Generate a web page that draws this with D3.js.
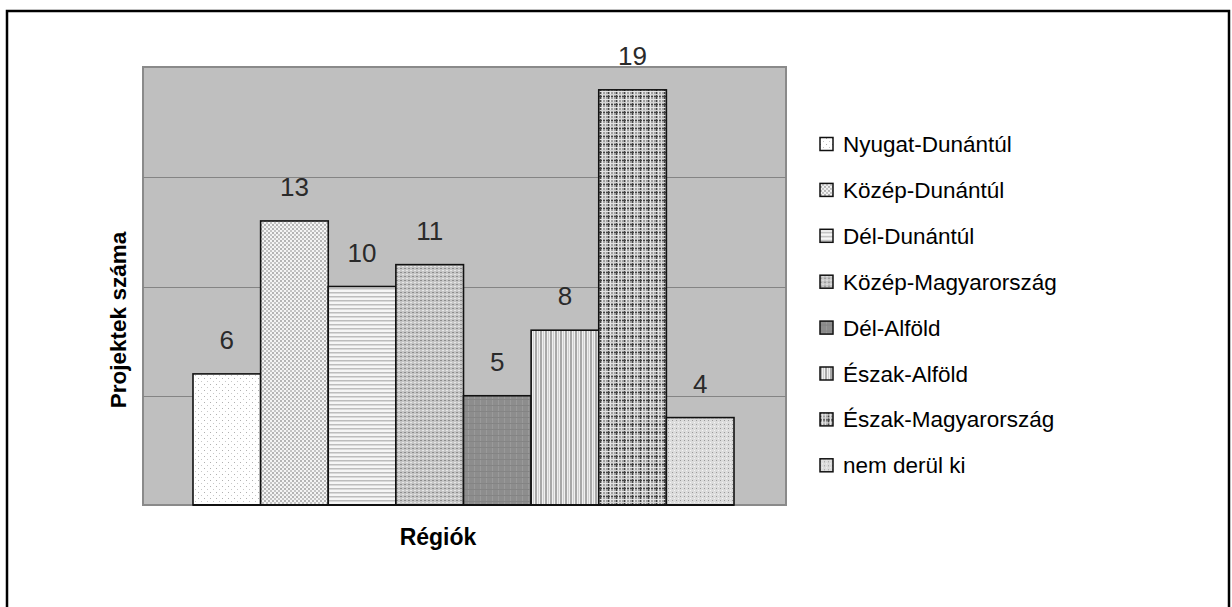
<!DOCTYPE html>
<html>
<head>
<meta charset="utf-8">
<script src="https://cdn.jsdelivr.net/npm/d3@7"></script>
<style>
  body { margin: 0; background: #fff; }
  svg { display: block; font-family: "Liberation Sans", Arial, sans-serif; }
</style>
</head>
<body>
<div id="chart"></div>
<script>
// data
const regions = ["Nyugat-Dunántúl", "Közép-Dunántúl", "Dél-Dunántúl", "Közép-Magyarország",
  "Dél-Alföld", "Észak-Alföld", "Észak-Magyarország", "nem derül ki"];
const projects = [6, 13, 10, 11, 5, 8, 19, 4];
const yTicks = [0, 5, 10, 15, 20];

const W = 1232, H = 607;
const plot = { left: 143, right: 786, top: 67, bottom: 505 };

const svg = d3.select("#chart").append("svg").attr("width", W).attr("height", H);
const defs = svg.append("defs");

// fill patterns, one per region
function makePattern(id, size, bg, draw) {
  const p = defs.append("pattern").attr("id", id).attr("patternUnits", "userSpaceOnUse")
    .attr("width", size[0]).attr("height", size[1]);
  p.append("rect").attr("width", size[0]).attr("height", size[1]).attr("fill", bg);
  draw(p);
}
makePattern("p0", [6, 6], "#ffffff", p => {
  p.append("rect").attr("x", 0).attr("y", 0).attr("width", 1).attr("height", 1).attr("fill", "#b0b0b0");
  p.append("rect").attr("x", 3).attr("y", 3).attr("width", 1).attr("height", 1).attr("fill", "#c8c8c8");
});
makePattern("p1", [4, 4], "#f4f4f4", p => {
  p.append("rect").attr("x", 0).attr("y", 0).attr("width", 2).attr("height", 2).attr("fill", "#b4b4b4");
  p.append("rect").attr("x", 2).attr("y", 2).attr("width", 2).attr("height", 2).attr("fill", "#c4c4c4");
});
makePattern("p2", [4, 4], "#f6f6f6", p => {
  p.append("rect").attr("x", 0).attr("y", 0).attr("width", 4).attr("height", 1.5).attr("fill", "#bdbdbd");
});
makePattern("p3", [4, 4], "#c6c6c6", p => {
  p.append("rect").attr("x", 0).attr("y", 0).attr("width", 2).attr("height", 1).attr("fill", "#8e8e8e");
  p.append("rect").attr("x", 2).attr("y", 2).attr("width", 2).attr("height", 1).attr("fill", "#e6e6e6");
});
makePattern("p4", [6, 6], "#8d8d8d", p => {
  p.append("rect").attr("x", 0).attr("y", 0).attr("width", 1).attr("height", 6).attr("fill", "#9a9a9a");
  p.append("rect").attr("x", 0).attr("y", 3).attr("width", 6).attr("height", 1).attr("fill", "#848484");
});
makePattern("p5", [5, 5], "#f0f0f0", p => {
  p.append("rect").attr("x", 0).attr("y", 0).attr("width", 2).attr("height", 5).attr("fill", "#a8a8a8");
  p.append("rect").attr("x", 3).attr("y", 0).attr("width", 1).attr("height", 5).attr("fill", "#cfcfcf");
});
makePattern("p6", [8, 8], "#a0a0a0", p => {
  p.append("rect").attr("x", 0).attr("y", 0).attr("width", 1).attr("height", 8).attr("fill", "#444");
  p.append("rect").attr("x", 0).attr("y", 0).attr("width", 8).attr("height", 1).attr("fill", "#444");
  p.append("rect").attr("x", 2).attr("y", 0).attr("width", 1).attr("height", 8).attr("fill", "#e8e8e8");
  p.append("rect").attr("x", 5).attr("y", 0).attr("width", 1).attr("height", 8).attr("fill", "#dcdcdc");
  p.append("rect").attr("x", 0).attr("y", 3).attr("width", 8).attr("height", 1).attr("fill", "#e4e4e4");
  p.append("rect").attr("x", 0).attr("y", 6).attr("width", 8).attr("height", 1).attr("fill", "#d4d4d4");
});
makePattern("p7", [4, 4], "#dcdcdc", p => {
  p.append("rect").attr("x", 0).attr("y", 0).attr("width", 1).attr("height", 1).attr("fill", "#9a9a9a");
  p.append("rect").attr("x", 2).attr("y", 2).attr("width", 1).attr("height", 1).attr("fill", "#f4f4f4");
});

// outer frame
svg.append("rect").attr("x", 7).attr("y", 11).attr("width", 1222).attr("height", 620)
  .attr("fill", "#fff").attr("stroke", "#000").attr("stroke-width", 2.5);

// scales
const y = d3.scaleLinear().domain([0, 20]).range([plot.bottom, plot.top + 1]);
const x = d3.scaleBand().domain(regions).range([193, 734]).padding(0);

// plot background
svg.append("rect").attr("x", plot.left).attr("y", plot.top)
  .attr("width", plot.right - plot.left).attr("height", plot.bottom - plot.top)
  .attr("fill", "#bfbfbf").attr("stroke", "#8a8a8a").attr("stroke-width", 2);

// gridlines
svg.append("g").selectAll("line").data(yTicks.filter(d => d > 0 && d < 20)).join("line")
  .attr("x1", plot.left).attr("x2", plot.right)
  .attr("y1", d => Math.round(y(d)) + 0.5).attr("y2", d => Math.round(y(d)) + 0.5)
  .attr("stroke", "#848484").attr("stroke-width", 1.2);

// bars
svg.append("g").selectAll("rect").data(regions).join("rect")
  .attr("x", d => x(d))
  .attr("y", (d, i) => y(projects[i]))
  .attr("width", x.bandwidth())
  .attr("height", (d, i) => plot.bottom - y(projects[i]))
  .attr("fill", (d, i) => `url(#p${i})`)
  .attr("stroke", "#111").attr("stroke-width", 1.6);

// baseline
svg.append("line").attr("x1", 193).attr("x2", 734).attr("y1", plot.bottom).attr("y2", plot.bottom)
  .attr("stroke", "#111").attr("stroke-width", 2);

// value labels
svg.append("g").selectAll("text").data(regions).join("text")
  .attr("x", d => x(d) + x.bandwidth() / 2)
  .attr("y", (d, i) => y(projects[i]) - 25)
  .attr("text-anchor", "middle")
  .attr("font-size", 26).attr("fill", "#2a2a2a")
  .text((d, i) => projects[i]);

// axis titles
svg.append("text").attr("x", 438).attr("y", 545).attr("text-anchor", "middle")
  .attr("font-size", 23).attr("font-weight", "bold").text("Régiók");
svg.append("text").attr("transform", "translate(126,320) rotate(-90)").attr("text-anchor", "middle")
  .attr("font-size", 22.5).attr("font-weight", "bold").text("Projektek száma");

// legend
const legend = svg.append("g").selectAll("g").data(regions).join("g")
  .attr("transform", (d, i) => `translate(820,${144 + i * 45.9})`);
legend.append("rect").attr("x", 0).attr("y", -6.5).attr("width", 13).attr("height", 13)
  .attr("fill", (d, i) => `url(#p${i})`).attr("stroke", "#111").attr("stroke-width", 1.5);
legend.append("text").attr("x", 23).attr("y", 8)
  .attr("font-size", 22.5).attr("fill", "#000").text(d => d);
</script>
</body>
</html>
